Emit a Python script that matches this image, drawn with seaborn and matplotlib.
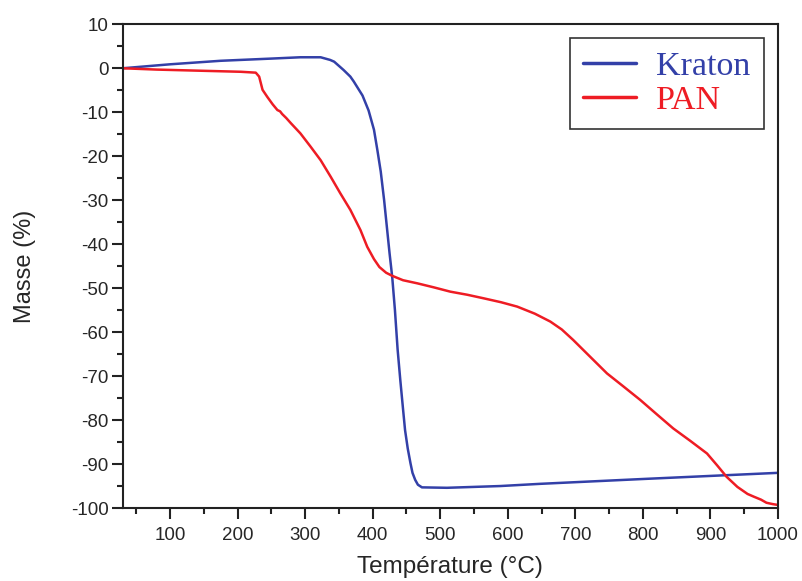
import numpy as np
import pandas as pd
import matplotlib
matplotlib.use("Agg")
import matplotlib.pyplot as plt
import seaborn as sns
from matplotlib.ticker import MultipleLocator

# TGA curves (temperature in degC, mass change in %)
kraton_t = [30, 100, 175, 250, 293, 323, 337, 343, 357, 367, 372, 385, 394, 402, 407,
            412, 417, 421, 425, 429, 433, 437, 441, 445, 448, 452, 456, 459, 463, 467,
            473, 510, 589, 648, 800, 1000]
kraton_m = [0, 0.9, 1.7, 2.2, 2.5, 2.5, 1.9, 1.5, -0.4, -1.9, -3.0, -6.2, -9.6, -14.0, -18.6,
            -23.5, -30.0, -36.0, -42.0, -47.5, -55.0, -64.0, -71.0, -77.5, -82.3, -86.5, -89.8,
            -92.0, -93.6, -94.7, -95.3, -95.4, -95.0, -94.5, -93.4, -92.0]

pan_t = [30, 80, 130, 180, 205, 227, 232, 237, 244, 252, 259, 263, 266, 272, 279, 293, 308,
         323, 338, 352, 367, 382, 392, 402, 410, 420, 429, 445, 466, 490, 515, 540,
         564, 590, 614, 640, 663, 680, 697, 720, 747, 770, 796, 820, 845, 870, 895, 910, 924,
         940, 955, 964, 975, 983, 992, 1000]
pan_m = [0, -0.3, -0.5, -0.7, -0.8, -1.0, -1.9, -4.9, -6.5, -8.2, -9.5, -9.8, -10.4,
         -11.3, -12.5, -14.8, -17.8, -20.9, -24.7, -28.4, -32.2, -36.8, -40.6, -43.4,
         -45.2, -46.5, -47.2, -48.2, -48.9, -49.8, -50.8, -51.5, -52.3, -53.2, -54.2, -55.8,
         -57.6, -59.4, -61.8, -65.3, -69.4, -72.2, -75.4, -78.6, -81.9, -84.7, -87.6, -90.3,
         -92.9, -95.2, -96.8, -97.4, -98.1, -98.8, -99.1, -99.3]

series_names = ["Kraton", "PAN"]
series_colors = ["#3340a8", "#ee1c24"]

df = pd.concat([
    pd.DataFrame({"T": kraton_t, "m": kraton_m, "s": series_names[0]}),
    pd.DataFrame({"T": pan_t, "m": pan_m, "s": series_names[1]}),
])

sns.set_style("ticks")
plt.rcParams['font.family'] = ['Liberation Sans', 'DejaVu Sans']
plt.rcParams['axes.unicode_minus'] = False

fig = plt.figure(figsize=(8.02, 5.81), dpi=100)
ax = fig.add_axes([0.153, 0.1256, 0.817, 0.8326])

sns.lineplot(data=df, x="T", y="m", hue="s", palette=series_colors, sort=False,
             estimator=None, linewidth=1.8, ax=ax)

ax.set_xlim(30, 1000)
ax.set_ylim(-100, 10)
ax.xaxis.set_major_locator(MultipleLocator(100))
ax.xaxis.set_minor_locator(MultipleLocator(50))
ax.yaxis.set_major_locator(MultipleLocator(10))
ax.yaxis.set_minor_locator(MultipleLocator(5))
ax.tick_params(which="major", length=8, width=1.5, labelsize=13.5, color="#222222", pad=2)
ax.tick_params(axis="x", which="major", pad=6)
ax.tick_params(which="minor", length=4.5, width=1.5, color="#222222")
ax.set_xticks(range(100, 1001, 100))
for sp in ax.spines.values():
    sp.set_linewidth(1.5)
    sp.set_color("#222222")

ax.set_xlabel("Température (°C)", fontsize=17.5, labelpad=8)
ax.set_ylabel("Masse (%)", fontsize=17, labelpad=25)

leg = ax.legend(loc="upper right", frameon=True, fancybox=False, edgecolor="black",
                prop={"family": "Liberation Serif", "size": 24.5}, handlelength=1.55,
                handletextpad=0.6, borderpad=0.4, labelspacing=0.08, borderaxespad=0.4)
leg.get_frame().set_linewidth(1.2)
for txt, c in zip(leg.get_texts(), series_colors):
    txt.set_color(c)
for h in leg.get_lines():
    h.set_linewidth(2.5)

fig.savefig("out.png", dpi=100)
